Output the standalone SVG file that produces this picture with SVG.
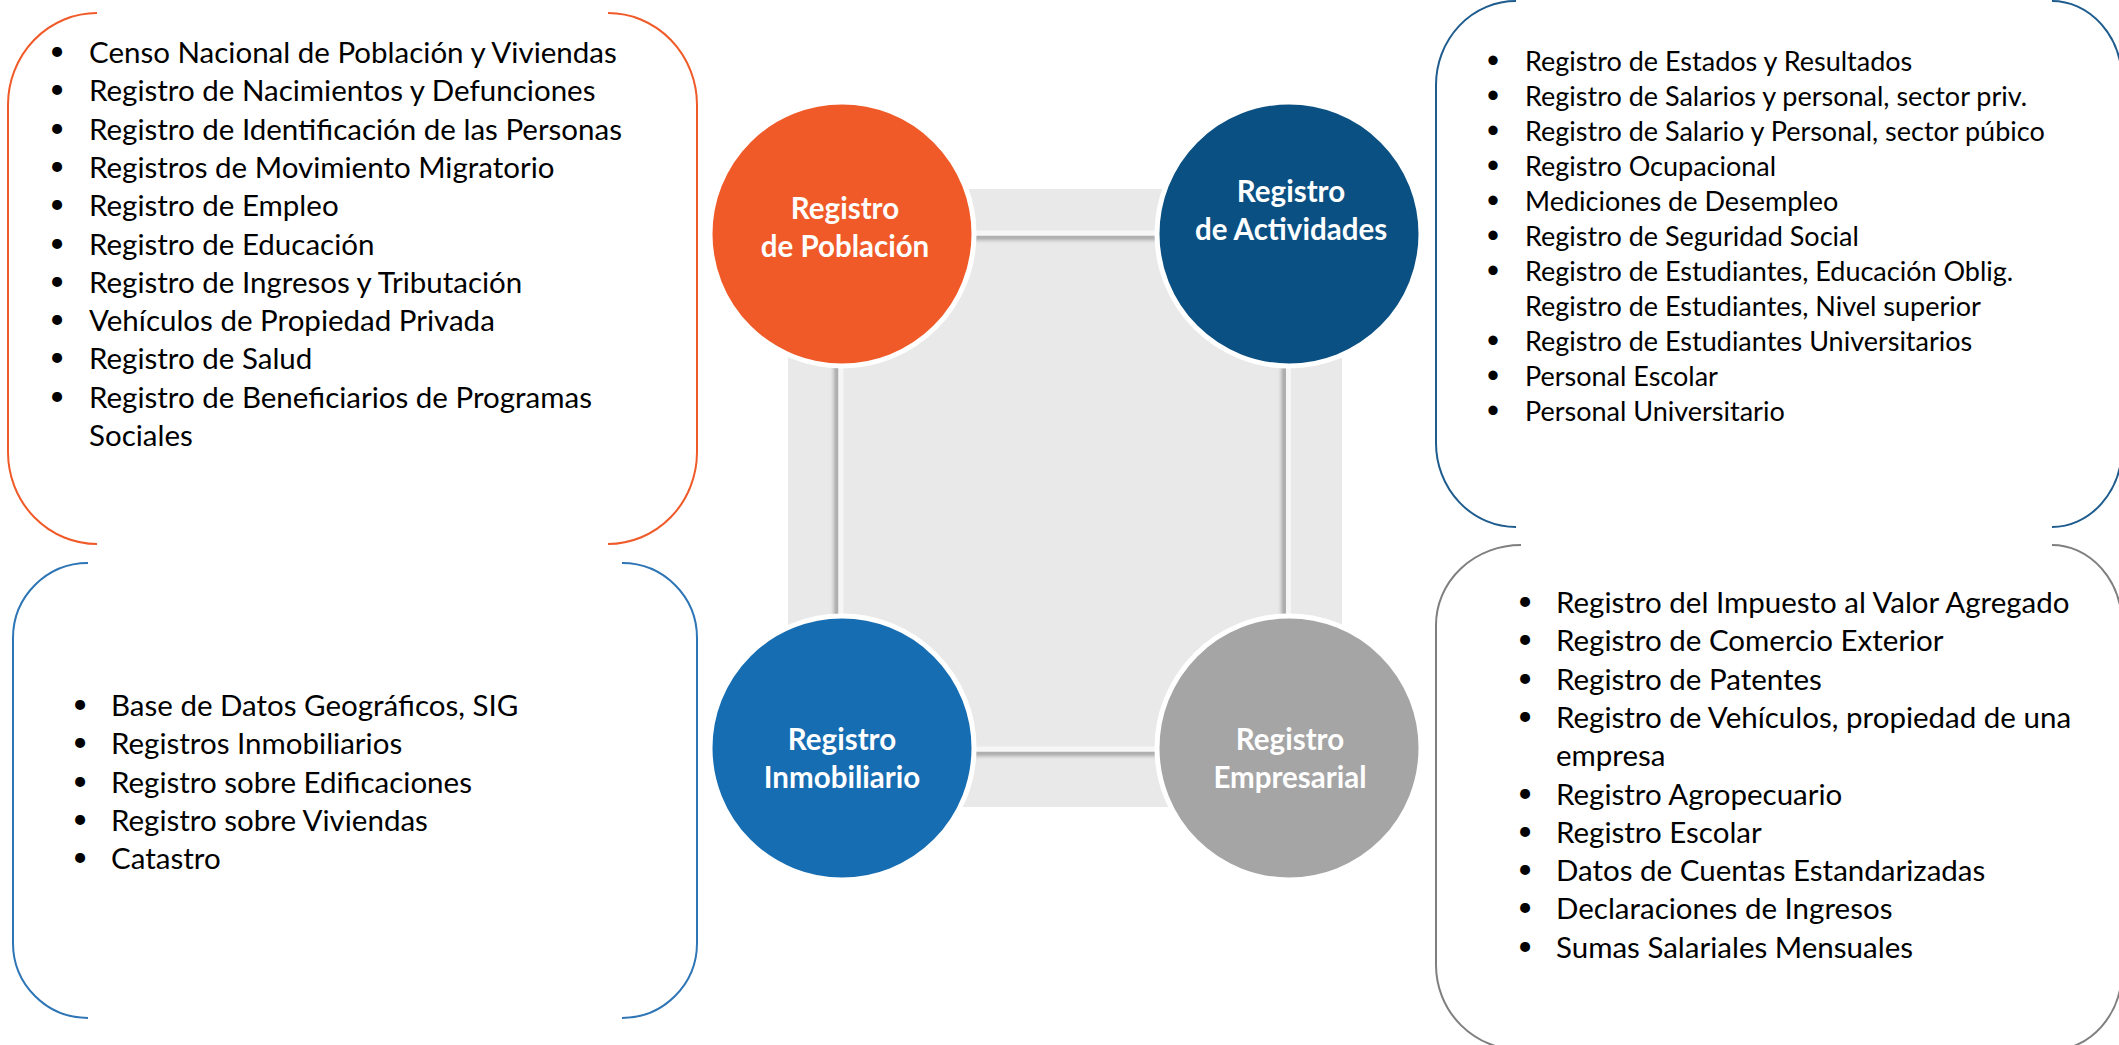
<svg xmlns="http://www.w3.org/2000/svg" width="2119" height="1045" viewBox="0 0 2119 1045">
<defs>
<style>
.t{font-family:Lato,"Open Sans","Liberation Sans",sans-serif;font-size:29.5px;fill:#000}
.ts{font-size:27px}
.bl{font-family:Lato,"Open Sans","Liberation Sans",sans-serif;font-size:27px;fill:#000;text-anchor:middle}
.bls{font-size:25px}
.c{font-family:Lato,"Open Sans","Liberation Sans",sans-serif;font-weight:700;font-size:29.5px;fill:#fff;text-anchor:middle}
.br{fill:none;stroke-width:2}
.circ{stroke:#fff;stroke-width:5}
.con{fill:#F6F6F6}
</style>
<filter id="shd" filterUnits="userSpaceOnUse" x="700" y="150" width="700" height="700">
<feGaussianBlur in="SourceAlpha" stdDeviation="2"/>
<feOffset dx="0" dy="4" result="o"/>
<feComponentTransfer><feFuncA type="linear" slope="0.35"/></feComponentTransfer>
<feMerge><feMergeNode/><feMergeNode in="SourceGraphic"/></feMerge>
</filter>
<filter id="shl" filterUnits="userSpaceOnUse" x="700" y="150" width="700" height="700">
<feGaussianBlur in="SourceAlpha" stdDeviation="2"/>
<feOffset dx="-4" dy="0" result="o"/>
<feComponentTransfer><feFuncA type="linear" slope="0.35"/></feComponentTransfer>
<feMerge><feMergeNode/><feMergeNode in="SourceGraphic"/></feMerge>
</filter>
</defs>
<rect width="2119" height="1045" fill="#fff"/>

<rect id="center-panel" x="788" y="189" width="554" height="618" fill="#E9E9E9"/>

<g id="connectors">
<rect class="con" x="965" y="230.5" width="200" height="5" filter="url(#shd)"/>
<rect class="con" x="965" y="746.5" width="200" height="5" filter="url(#shd)"/>
<rect class="con" x="838.5" y="355" width="5" height="270" filter="url(#shl)"/>
<rect class="con" x="1286" y="355" width="5" height="270" filter="url(#shl)"/>
</g>

<g id="node-poblacion">
<circle class="circ" cx="842" cy="234" r="132" fill="#F05A28"/>
<text class="c"><tspan x="845" y="219">Registro</tspan><tspan x="845" y="257">de Población</tspan></text>
</g>
<g id="node-actividades">
<circle class="circ" cx="1289" cy="234" r="132" fill="#0B5083"/>
<text class="c"><tspan x="1291" y="202">Registro</tspan><tspan x="1291" y="240">de Actividades</tspan></text>
</g>
<g id="node-inmobiliario">
<circle class="circ" cx="842" cy="748" r="132" fill="#176DB2"/>
<text class="c"><tspan x="842" y="750">Registro</tspan><tspan x="842" y="788">Inmobiliario</tspan></text>
</g>
<g id="node-empresarial">
<circle class="circ" cx="1289" cy="748" r="132" fill="#A5A5A5"/>
<text class="c"><tspan x="1290" y="750">Registro</tspan><tspan x="1290" y="788">Empresarial</tspan></text>
</g>

<g id="list-poblacion">
<path class="br" stroke="#F05A28" d="M97,13 A89,92 0 0 0 8,105 V452 A89,92 0 0 0 97,544 M608,13 A89,92 0 0 1 697,105 V452 A89,92 0 0 1 608,544"/>
<g transform="translate(0,-3)">
<text class="bl"><tspan x="57" y="63">•</tspan><tspan x="57" y="101.3">•</tspan><tspan x="57" y="139.6">•</tspan><tspan x="57" y="177.9">•</tspan><tspan x="57" y="216.2">•</tspan><tspan x="57" y="254.5">•</tspan><tspan x="57" y="292.8">•</tspan><tspan x="57" y="331.1">•</tspan><tspan x="57" y="369.4">•</tspan><tspan x="57" y="407.7">•</tspan></text>
</g>
<text class="t">
<tspan x="89" y="63">Censo Nacional de Población y Viviendas</tspan>
<tspan x="89" y="101.3">Registro de Nacimientos y Defunciones</tspan>
<tspan x="89" y="139.6">Registro de Identificación de las Personas</tspan>
<tspan x="89" y="177.9">Registros de Movimiento Migratorio</tspan>
<tspan x="89" y="216.2">Registro de Empleo</tspan>
<tspan x="89" y="254.5">Registro de Educación</tspan>
<tspan x="89" y="292.8">Registro de Ingresos y Tributación</tspan>
<tspan x="89" y="331.1">Vehículos de Propiedad Privada</tspan>
<tspan x="89" y="369.4">Registro de Salud</tspan>
<tspan x="89" y="407.7">Registro de Beneficiarios de Programas</tspan>
<tspan x="89" y="446">Sociales</tspan>
</text>
</g>

<g id="list-inmobiliario">
<path class="br" stroke="#2E75B6" d="M88,563 A75,75 0 0 0 13,638 V943 A75,75 0 0 0 88,1018 M622,563 A75,75 0 0 1 697,638 V943 A75,75 0 0 1 622,1018"/>
<g transform="translate(0,-3)">
<text class="bl"><tspan x="80" y="716">•</tspan><tspan x="80" y="754.3">•</tspan><tspan x="80" y="792.6">•</tspan><tspan x="80" y="830.9">•</tspan><tspan x="80" y="869.2">•</tspan></text>
</g>
<text class="t">
<tspan x="111" y="716">Base de Datos Geográficos, SIG</tspan>
<tspan x="111" y="754.3">Registros Inmobiliarios</tspan>
<tspan x="111" y="792.6">Registro sobre Edificaciones</tspan>
<tspan x="111" y="830.9">Registro sobre Viviendas</tspan>
<tspan x="111" y="869.2">Catastro</tspan>
</text>
</g>

<g id="list-actividades">
<path class="br" stroke="#1F5C8E" d="M1516,1 A80,84 0 0 0 1436,85 V443 A80,84 0 0 0 1516,527 M2052,1 A70,80 0 0 1 2122,81 V447 A70,80 0 0 1 2052,527"/>
<g transform="translate(0,-3)">
<text class="bl bls"><tspan x="1493" y="70.7">•</tspan><tspan x="1493" y="105.7">•</tspan><tspan x="1493" y="140.7">•</tspan><tspan x="1493" y="175.7">•</tspan><tspan x="1493" y="210.7">•</tspan><tspan x="1493" y="245.7">•</tspan><tspan x="1493" y="280.7">•</tspan><tspan x="1493" y="350.7">•</tspan><tspan x="1493" y="385.7">•</tspan><tspan x="1493" y="420.7">•</tspan></text>
</g>
<text class="t ts">
<tspan x="1525" y="70.7">Registro de Estados y Resultados</tspan>
<tspan x="1525" y="105.7">Registro de Salarios y personal, sector priv.</tspan>
<tspan x="1525" y="140.7">Registro de Salario y Personal, sector púbico</tspan>
<tspan x="1525" y="175.7">Registro Ocupacional</tspan>
<tspan x="1525" y="210.7">Mediciones de Desempleo</tspan>
<tspan x="1525" y="245.7">Registro de Seguridad Social</tspan>
<tspan x="1525" y="280.7">Registro de Estudiantes, Educación Oblig.</tspan>
<tspan x="1525" y="315.7">Registro de Estudiantes, Nivel superior</tspan>
<tspan x="1525" y="350.7">Registro de Estudiantes Universitarios</tspan>
<tspan x="1525" y="385.7">Personal Escolar</tspan>
<tspan x="1525" y="420.7">Personal Universitario</tspan>
</text>
</g>

<g id="list-empresarial">
<path class="br" stroke="#7F7F7F" d="M1521,545 A85,80 0 0 0 1436,625 V965 A85,85 0 0 0 1521,1050 M2052,545 A70,80 0 0 1 2122,625 V970 A70,80 0 0 1 2052,1050"/>
<g transform="translate(0,-3)">
<text class="bl"><tspan x="1525" y="613">•</tspan><tspan x="1525" y="651.3">•</tspan><tspan x="1525" y="689.6">•</tspan><tspan x="1525" y="727.9">•</tspan><tspan x="1525" y="804.5">•</tspan><tspan x="1525" y="842.8">•</tspan><tspan x="1525" y="881.1">•</tspan><tspan x="1525" y="919.4">•</tspan><tspan x="1525" y="957.7">•</tspan></text>
</g>
<text class="t">
<tspan x="1556" y="613">Registro del Impuesto al Valor Agregado</tspan>
<tspan x="1556" y="651.3">Registro de Comercio Exterior</tspan>
<tspan x="1556" y="689.6">Registro de Patentes</tspan>
<tspan x="1556" y="727.9">Registro de Vehículos, propiedad de una</tspan>
<tspan x="1556" y="766.2">empresa</tspan>
<tspan x="1556" y="804.5">Registro Agropecuario</tspan>
<tspan x="1556" y="842.8">Registro Escolar</tspan>
<tspan x="1556" y="881.1">Datos de Cuentas Estandarizadas</tspan>
<tspan x="1556" y="919.4">Declaraciones de Ingresos</tspan>
<tspan x="1556" y="957.7">Sumas Salariales Mensuales</tspan>
</text>
</g>
</svg>
